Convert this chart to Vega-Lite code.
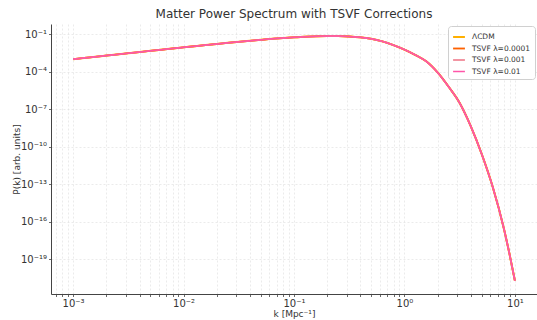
{
  "$schema": "https://vega.github.io/schema/vega-lite/v6.json",
  "width": 486,
  "height": 270,
  "autosize": {"type": "none"},
  "padding": {"left": 51, "top": 24, "right": 0, "bottom": 26},
  "background": "white",
  "title": {
    "text": "Matter Power Spectrum with TSVF Corrections",
    "font": "DejaVu Sans",
    "fontSize": 12,
    "fontWeight": "normal",
    "color": "#333333",
    "anchor": "middle",
    "offset": 3
  },
  "data": {
    "values": [
      {"k": 0.001, "s1": 1.023e-3, "s2": 1.023e-3, "s3": 1.023e-3, "s4": 1.023e-3},
      {"k": 0.001259, "s1": 1.288e-3, "s2": 1.288e-3, "s3": 1.288e-3, "s4": 1.288e-3},
      {"k": 0.001585, "s1": 1.585e-3, "s2": 1.585e-3, "s3": 1.585e-3, "s4": 1.585e-3},
      {"k": 0.001995, "s1": 1.995e-3, "s2": 1.995e-3, "s3": 1.995e-3, "s4": 1.995e-3},
      {"k": 0.002512, "s1": 2.455e-3, "s2": 2.455e-3, "s3": 2.455e-3, "s4": 2.455e-3},
      {"k": 0.003162, "s1": 3.090e-3, "s2": 3.090e-3, "s3": 3.090e-3, "s4": 3.090e-3},
      {"k": 0.003981, "s1": 3.802e-3, "s2": 3.802e-3, "s3": 3.802e-3, "s4": 3.802e-3},
      {"k": 0.005012, "s1": 4.786e-3, "s2": 4.786e-3, "s3": 4.786e-3, "s4": 4.786e-3},
      {"k": 0.00631, "s1": 5.888e-3, "s2": 5.888e-3, "s3": 5.888e-3, "s4": 5.888e-3},
      {"k": 0.007943, "s1": 7.413e-3, "s2": 7.413e-3, "s3": 7.413e-3, "s4": 7.413e-3},
      {"k": 0.01, "s1": 9.120e-3, "s2": 9.120e-3, "s3": 9.120e-3, "s4": 9.120e-3},
      {"k": 0.01259, "s1": 1.122e-2, "s2": 1.122e-2, "s3": 1.122e-2, "s4": 1.122e-2},
      {"k": 0.01585, "s1": 1.380e-2, "s2": 1.380e-2, "s3": 1.380e-2, "s4": 1.380e-2},
      {"k": 0.01995, "s1": 1.698e-2, "s2": 1.698e-2, "s3": 1.698e-2, "s4": 1.698e-2},
      {"k": 0.02512, "s1": 2.089e-2, "s2": 2.089e-2, "s3": 2.089e-2, "s4": 2.089e-2},
      {"k": 0.03162, "s1": 2.512e-2, "s2": 2.512e-2, "s3": 2.512e-2, "s4": 2.512e-2},
      {"k": 0.03981, "s1": 3.020e-2, "s2": 3.020e-2, "s3": 3.020e-2, "s4": 3.020e-2},
      {"k": 0.05012, "s1": 3.631e-2, "s2": 3.631e-2, "s3": 3.631e-2, "s4": 3.631e-2},
      {"k": 0.0631, "s1": 4.365e-2, "s2": 4.365e-2, "s3": 4.365e-2, "s4": 4.365e-2},
      {"k": 0.07943, "s1": 5.012e-2, "s2": 5.012e-2, "s3": 5.012e-2, "s4": 5.012e-2},
      {"k": 0.1, "s1": 5.754e-2, "s2": 5.754e-2, "s3": 5.754e-2, "s4": 5.754e-2},
      {"k": 0.1259, "s1": 6.457e-2, "s2": 6.457e-2, "s3": 6.457e-2, "s4": 6.457e-2},
      {"k": 0.1585, "s1": 6.918e-2, "s2": 6.918e-2, "s3": 6.918e-2, "s4": 6.918e-2},
      {"k": 0.1995, "s1": 7.244e-2, "s2": 7.244e-2, "s3": 7.244e-2, "s4": 7.244e-2},
      {"k": 0.2512, "s1": 7.244e-2, "s2": 7.244e-2, "s3": 7.244e-2, "s4": 7.244e-2},
      {"k": 0.3162, "s1": 6.761e-2, "s2": 6.761e-2, "s3": 6.761e-2, "s4": 6.761e-2},
      {"k": 0.3981, "s1": 5.754e-2, "s2": 5.754e-2, "s3": 5.754e-2, "s4": 5.754e-2},
      {"k": 0.5012, "s1": 4.365e-2, "s2": 4.365e-2, "s3": 4.365e-2, "s4": 4.365e-2},
      {"k": 0.631, "s1": 2.754e-2, "s2": 2.754e-2, "s3": 2.754e-2, "s4": 2.754e-2},
      {"k": 0.7943, "s1": 1.380e-2, "s2": 1.380e-2, "s3": 1.380e-2, "s4": 1.380e-2},
      {"k": 1.0, "s1": 6.026e-3, "s2": 6.026e-3, "s3": 6.026e-3, "s4": 6.026e-3},
      {"k": 1.259, "s1": 2.188e-3, "s2": 2.188e-3, "s3": 2.188e-3, "s4": 2.188e-3},
      {"k": 1.585, "s1": 6.607e-4, "s2": 6.607e-4, "s3": 6.607e-4, "s4": 6.607e-4},
      {"k": 1.995, "s1": 8.913e-5, "s2": 8.913e-5, "s3": 8.913e-5, "s4": 8.913e-5},
      {"k": 2.512, "s1": 6.310e-6, "s2": 6.310e-6, "s3": 6.310e-6, "s4": 6.310e-6},
      {"k": 3.162, "s1": 3.162e-7, "s2": 3.162e-7, "s3": 3.162e-7, "s4": 3.162e-7},
      {"k": 3.981, "s1": 4.467e-9, "s2": 4.467e-9, "s3": 4.467e-9, "s4": 4.467e-9},
      {"k": 5.012, "s1": 2.512e-11, "s2": 2.512e-11, "s3": 2.512e-11, "s4": 2.512e-11},
      {"k": 6.31, "s1": 5.623e-14, "s2": 5.623e-14, "s3": 5.623e-14, "s4": 5.623e-14},
      {"k": 7.943, "s1": 2.818e-17, "s2": 2.818e-17, "s3": 2.818e-17, "s4": 2.818e-17},
      {"k": 8.913, "s1": 2.818e-19, "s2": 2.818e-19, "s3": 2.818e-19, "s4": 2.818e-19},
      {"k": 10.0, "s1": 1.820e-21, "s2": 1.820e-21, "s3": 1.820e-21, "s4": 1.820e-21}
    ]
  },
  "transform": [
    {"fold": ["s1", "s2", "s3", "s4"], "as": ["series", "P"]}
  ],
  "mark": {"type": "line", "interpolate": "monotone", "clip": true},
  "encoding": {
    "x": {
      "field": "k",
      "type": "quantitative",
      "scale": {"type": "log", "domain": [0.000631, 15.85], "nice": false},
      "axis": {
        "title": "k [Mpc⁻¹]",
        "titlePadding": 1,
        "values": [0.0007, 0.0008, 0.0009, 0.001, 0.002, 0.003, 0.004, 0.005, 0.006, 0.007, 0.008, 0.009, 0.01, 0.02, 0.03, 0.04, 0.05, 0.06, 0.07, 0.08, 0.09, 0.1, 0.2, 0.3, 0.4, 0.5, 0.6, 0.7, 0.8, 0.9, 1, 2, 3, 4, 5, 6, 7, 8, 9, 10],
        "labelExpr": "abs(log(datum.value)/LN10 - round(log(datum.value)/LN10)) < 0.001 ? '10' + replace(replace(replace(replace(replace(replace('' + round(log(datum.value)/LN10), '-', '⁻'), '0', '⁰'), '1', '¹'), '2', '²'), '3', '³'), '4', '⁴') : ''",
        "tickSize": 2.5,
        "grid": true
      }
    },
    "y": {
      "field": "P",
      "type": "quantitative",
      "scale": {"type": "log", "domain": [1.585e-22, 0.676], "nice": false},
      "axis": {
        "title": "P(k) [arb. units]",
        "titleX": -35,
        "titleBaseline": "middle",
        "values": [1e-19, 1e-16, 1e-13, 1e-10, 1e-7, 1e-4, 1e-1],
        "labelExpr": "'10' + replace(replace(replace(replace(replace(replace(replace(replace(replace('' + round(log(datum.value)/LN10), '-', '⁻'), '0', '⁰'), '1', '¹'), '3', '³'), '4', '⁴'), '6', '⁶'), '7', '⁷'), '9', '⁹'), '2', '²')",
        "tickSize": 2.5,
        "grid": true
      }
    },
    "color": {
      "field": "series",
      "type": "nominal",
      "scale": {
        "domain": ["s1", "s2", "s3", "s4"],
        "range": ["#FFB000", "#FE6100", "#F08090", "#FF55A8"]
      },
      "legend": {
        "title": null,
        "labelExpr": "datum.value == 's1' ? 'ΛCDM' : datum.value == 's2' ? 'TSVF λ=0.0001' : datum.value == 's3' ? 'TSVF λ=0.001' : 'TSVF λ=0.01'"
      }
    },
    "strokeWidth": {
      "field": "series",
      "type": "ordinal",
      "scale": {
        "domain": ["s1", "s2", "s3", "s4"],
        "range": [2, 1.5, 2.5, 1.5]
      },
      "legend": {
        "title": null,
        "labelExpr": "datum.value == 's1' ? 'ΛCDM' : datum.value == 's2' ? 'TSVF λ=0.0001' : datum.value == 's3' ? 'TSVF λ=0.001' : 'TSVF λ=0.01'"
      }
    }
  },
  "config": {
    "font": "DejaVu Sans",
    "view": {"stroke": null},
    "axis": {
      "labelFont": "DejaVu Sans",
      "labelFontSize": 10,
      "labelColor": "#333333",
      "titleFont": "DejaVu Sans",
      "titleFontSize": 9,
      "titleFontWeight": "normal",
      "titleColor": "#333333",
      "domainColor": "#444444",
      "domainWidth": 1,
      "tickColor": "#444444",
      "tickWidth": 0.8,
      "gridColor": "#dedede",
      "gridDash": [2, 2],
      "gridWidth": 0.6,
      "labelPadding": 2,
      "titlePadding": 3
    },
    "axisX": {"labelFlush": false},
    "legend": {
      "orient": "top-right",
      "offset": 2,
      "fillColor": "white",
      "strokeColor": "#d0d0d0",
      "cornerRadius": 3,
      "padding": 4,
      "labelFont": "DejaVu Sans",
      "labelFontSize": 7.5,
      "labelColor": "#333333",
      "labelOffset": 6,
      "symbolType": "stroke",
      "symbolSize": 140,
      "rowPadding": 0.5
    }
  }
}
